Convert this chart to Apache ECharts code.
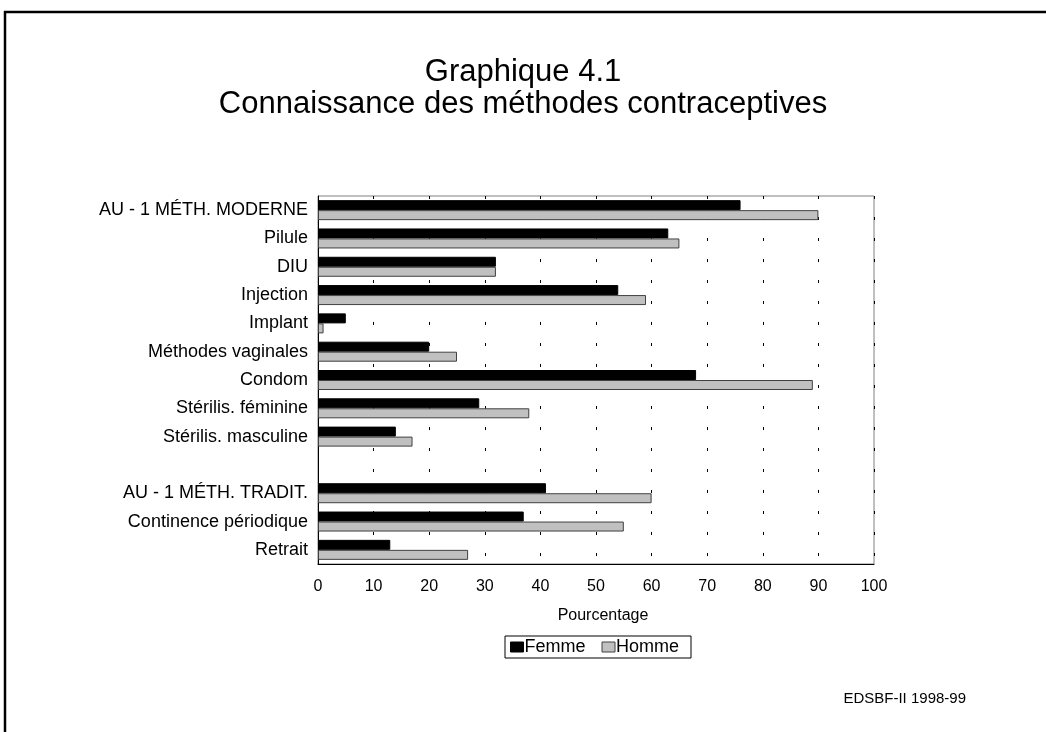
<!DOCTYPE html>
<html>
<head>
<meta charset="utf-8">
<script src="https://cdn.jsdelivr.net/npm/echarts@6/dist/echarts.min.js"></script>
<style>
html,body{margin:0;padding:0;background:#fff;}
#c{width:1046px;height:732px;}
</style>
</head>
<body>
<div id="c"></div>
<script>
const categories = ['AU - 1 MÉTH. MODERNE','Pilule','DIU','Injection','Implant','Méthodes vaginales','Condom','Stérilis. féminine','Stérilis. masculine','','AU - 1 MÉTH. TRADIT.','Continence périodique','Retrait'];
const femme = [76, 63, 32, 54, 5, 20, 68, 29, 14, null, 41, 37, 13];
const homme = [90, 65, 32, 59, 1, 25, 89, 38, 17, null, 60, 55, 27];
const xTicks = [0,10,20,30,40,50,60,70,80,90,100];
const titleLines = ['Graphique 4.1', 'Connaissance des méthodes contraceptives'];
const sourceText = 'EDSBF-II 1998-99';

const FONT = '"Liberation Sans", Arial, sans-serif';
const chart = echarts.init(document.getElementById('c'), null, {renderer:'canvas'});
chart.setOption({
  animation: false,
  backgroundColor: '#fff',
  textStyle: {fontFamily: FONT, color: '#000'},
  title: {
    text: titleLines.join('\n'),
    left: 'center', top: 51,
    textStyle: {fontFamily: FONT, fontSize: 31, fontWeight: 'normal', color: '#000', lineHeight: 32}
  },
  grid: {left: 318, right: 172, top: 196, bottom: 168, show: true, borderColor: '#808080', borderWidth: 1, containLabel: false},
  legend: {
    data: [
      {name: 'Femme', itemStyle: {color: '#000', borderColor: '#000', borderWidth: 1}},
      {name: 'Homme', itemStyle: {color: '#c0c0c0', borderColor: '#404040', borderWidth: 1}}
    ],
    left: 505, top: 636,
    orient: 'horizontal',
    icon: 'rect', itemWidth: 13, itemHeight: 10, itemGap: 16,
    padding: [2, 12, 2, 5],
    borderColor: '#000', borderWidth: 1,
    textStyle: {fontFamily: FONT, fontSize: 18, color: '#000', padding: [0,0,0,-4]}
  },
  xAxis: {
    type: 'value', min: 0, max: 100, interval: 10,
    name: 'Pourcentage', nameLocation: 'middle', nameGap: 44,
    nameTextStyle: {fontFamily: FONT, fontSize: 16, color: '#000', padding: [0,0,0,14]},
    axisLine: {show: true, lineStyle: {color: '#000', width: 1}},
    axisTick: {show: false},
    axisLabel: {fontFamily: FONT, fontSize: 16, color: '#000', margin: 15,
      formatter: v => xTicks.includes(v) ? String(v) : ''},
    splitLine: {show: true, lineStyle: {color: '#000', width: 1, type: [3, 18]}}
  },
  yAxis: {
    type: 'category', data: categories, inverse: true,
    axisLine: {show: true, lineStyle: {color: '#000', width: 1}},
    axisTick: {show: false},
    axisLabel: {fontFamily: FONT, fontSize: 18, color: '#000', margin: 10},
    splitLine: {show: false}
  },
  series: [
    {name: 'Femme', type: 'bar', data: femme, barWidth: 10, barGap: '0%',
     itemStyle: {color: '#000', borderColor: '#000', borderWidth: 1}},
    {name: 'Homme', type: 'bar', data: homme, barWidth: 10, barGap: '0%',
     itemStyle: {color: '#c0c0c0', borderColor: '#404040', borderWidth: 1}}
  ],
  graphic: [
    {type: 'line', shape: {x1: 4, y1: 12, x2: 1046, y2: 12}, style: {stroke: '#000', lineWidth: 2.5}},
    {type: 'line', shape: {x1: 5, y1: 11, x2: 5, y2: 732}, style: {stroke: '#000', lineWidth: 2.5}},
    {type: 'text', right: 80, top: 691, style: {text: sourceText, font: '15px "Liberation Sans Narrow", "Liberation Sans", Arial, sans-serif', fill: '#000'}}
  ]
});
</script>
</body>
</html>
